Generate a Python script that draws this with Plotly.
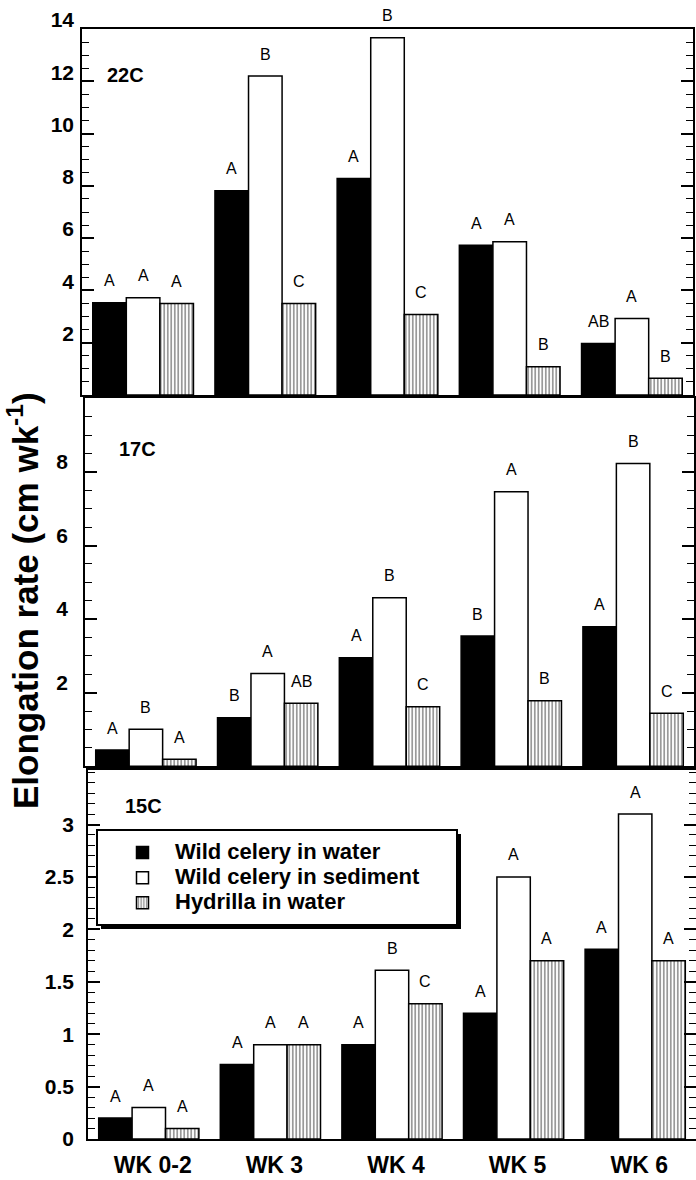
import plotly.graph_objects as go
import numpy as np

weeks = ["WK 0-2", "WK 3", "WK 4", "WK 5", "WK 6"]
series_names = ["Wild celery in water", "Wild celery in sediment", "Hydrilla in water"]

# 22C panel
t22_water = [3.53, 7.81, 8.28, 5.73, 1.97]
t22_sediment = [3.72, 12.2, 13.67, 5.86, 2.93]
t22_hydrilla = [3.5, 3.5, 3.08, 1.08, 0.64]
t22_let_water = ["A", "A", "A", "A", "AB"]
t22_let_sediment = ["A", "B", "B", "A", "A"]
t22_let_hydrilla = ["A", "C", "C", "B", "B"]

# 17C panel
t17_water = [0.44, 1.32, 2.95, 3.54, 3.79]
t17_sediment = [1.01, 2.52, 4.58, 7.46, 8.23]
t17_hydrilla = [0.19, 1.71, 1.62, 1.78, 1.44]
t17_let_water = ["A", "B", "A", "B", "A"]
t17_let_sediment = ["B", "A", "B", "A", "B"]
t17_let_hydrilla = ["A", "AB", "C", "B", "C"]

# 15C panel
t15_water = [0.2, 0.71, 0.9, 1.2, 1.81]
t15_sediment = [0.3, 0.9, 1.61, 2.5, 3.1]
t15_hydrilla = [0.1, 0.9, 1.29, 1.7, 1.7]
t15_let_water = ["A", "A", "A", "A", "A"]
t15_let_sediment = ["A", "A", "B", "A", "A"]
t15_let_hydrilla = ["A", "A", "C", "A", "A"]

panel_labels = ["22C", "17C", "15C"]

W, H = 696, 1180
FONT = "Liberation Sans, Arial, sans-serif"

panels = [
    dict(name=panel_labels[0], vals=[t22_water, t22_sediment, t22_hydrilla],
         lets=[t22_let_water, t22_let_sediment, t22_let_hydrilla],
         xpx=(82, 693), ypx=(29, 395), yr=[0, 14],
         tickvals=[2, 4, 6, 8, 10, 12, 14], ticktext=["2", "4", "6", "8", "10", "12", "14"],
         minor=list(np.arange(0, 14.01, 0.5)), shift=-9, standoff=2, lab=(125.5, 74.5)),
    dict(name=panel_labels[1], vals=[t17_water, t17_sediment, t17_hydrilla],
         lets=[t17_let_water, t17_let_sediment, t17_let_hydrilla],
         xpx=(85, 694), ypx=(398.3, 766.3), yr=[0, 10],
         tickvals=[2, 4, 6, 8], ticktext=["2", "4", "6", "8"],
         minor=list(np.arange(0, 10.01, 0.5)), shift=-10, standoff=11, lab=(137.5, 449)),
    dict(name=panel_labels[2], vals=[t15_water, t15_sediment, t15_hydrilla],
         lets=[t15_let_water, t15_let_sediment, t15_let_hydrilla],
         xpx=(88, 696), ypx=(770, 1139), yr=[0, 3.52],
         tickvals=[0, 0.5, 1, 1.5, 2, 2.5, 3], ticktext=["0", "0.5", "1", "1.5", "2", "2.5", "3"],
         minor=list(np.round(np.arange(0, 3.51, 0.1), 2)), shift=0, standoff=8, lab=(143, 805.5)),
]

bargap = 0.176
styles = [
    dict(color="black", pattern=None),
    dict(color="white", pattern=None),
    dict(color="white", pattern=dict(shape="|", size=3.5, solidity=0.4, fgcolor="black", bgcolor="white")),
]

fig = go.Figure()
annotations = []
layout = {}

for p, pan in enumerate(panels):
    ax = "" if p == 0 else str(p + 1)
    xref, yref = "x" + ax, "y" + ax
    for j in range(3):
        st = styles[j]
        marker = dict(color=st["color"], line=dict(color="black", width=1.5))
        if st["pattern"]:
            marker["pattern"] = st["pattern"]
        fig.add_trace(go.Bar(
            x=weeks, y=pan["vals"][j],
            name='<span style="font-size:22px">%s</span>' % series_names[j],
            marker=marker, xaxis=xref, yaxis=yref,
            showlegend=(p == 2), legendrank=j + 1,
        ))
    x0, x1 = pan["xpx"]
    y0, y1 = pan["ypx"]
    bar_px = (x1 - x0) / len(weeks) * (1 - bargap) / 3
    for j in range(3):
        for i, wk in enumerate(weeks):
            annotations.append(dict(
                x=wk, y=pan["vals"][j][i], xref=xref, yref=yref,
                text=pan["lets"][j][i], showarrow=False,
                xshift=(j - 1) * bar_px, yshift=22,
                xanchor="center", yanchor="middle",
                font=dict(family=FONT, size=16, color="#000000"),
            ))
    lx, ly = pan["lab"]
    annotations.append(dict(
        x=lx / W, y=1 - ly / H, xref="paper", yref="paper", text="<b>%s</b>" % pan["name"],
        showarrow=False, xanchor="center", yanchor="middle",
        font=dict(family=FONT, size=20, color="black"),
    ))
    layout["xaxis" + ax] = dict(
        domain=[x0 / W, x1 / W], anchor=yref, range=[-0.5, 4.5], automargin=False,
        showline=True, linecolor="black", linewidth=1.5, mirror=True,
        ticks="", showticklabels=(p == 2),
        tickfont=dict(family=FONT, size=23, color="black", weight="bold"),
        ticklabelstandoff=5, ticklabelshift=4, showgrid=False, zeroline=False,
    )
    layout["yaxis" + ax] = dict(
        domain=[1 - y1 / H, 1 - y0 / H], anchor=xref, range=pan["yr"], automargin=False,
        showline=True, linecolor="black", linewidth=1.5, mirror="ticks",
        ticks="inside", ticklen=12, tickwidth=1.5, tickcolor="black",
        tickmode="array", tickvals=pan["tickvals"], ticktext=pan["ticktext"],
        tickfont=dict(family=FONT, size=21, color="black", weight="bold"),
        ticklabelshift=pan["shift"], ticklabelstandoff=pan["standoff"],
        minor=dict(tickmode="array", tickvals=pan["minor"], ticks="inside", ticklen=7,
                   tickwidth=1.2, tickcolor="black", showgrid=False),
        showgrid=False, zeroline=False,
    )

# y-axis title
annotations.append(dict(
    x=23 / W, y=1 - 601 / H, xref="paper", yref="paper",
    text="<b>Elongation rate (cm wk<sup>-1</sup>)</b>", textangle=-90,
    showarrow=False, xanchor="center", yanchor="middle",
    font=dict(family=FONT, size=35, color="black"),
))

# legend box with drop shadow
shapes = [
    dict(type="rect", xref="paper", yref="paper", x0=101 / W, x1=461 / W,
         y0=1 - 929 / H, y1=1 - 834 / H, fillcolor="black", line=dict(width=0), layer="above"),
    dict(type="rect", xref="paper", yref="paper", x0=97 / W, x1=457 / W,
         y0=1 - 925 / H, y1=1 - 830 / H, fillcolor="white",
         line=dict(color="black", width=2), layer="above"),
]

fig.update_layout(
    width=W, height=H, margin=dict(l=0, r=0, t=0, b=0, autoexpand=False),
    paper_bgcolor="white", plot_bgcolor="white",
    barmode="group", bargap=bargap, bargroupgap=0,
    annotations=annotations, shapes=shapes,
    legend=dict(x=110 / W, y=1 - 835 / H, xanchor="left", yanchor="top",
                bgcolor="rgba(0,0,0,0)", borderwidth=0, itemwidth=55,
                tracegroupgap=0,
                font=dict(family=FONT, size=17, color="black", weight="bold")),
    font=dict(family=FONT, color="black"),
    **layout,
)

fig.write_html("out.html")
